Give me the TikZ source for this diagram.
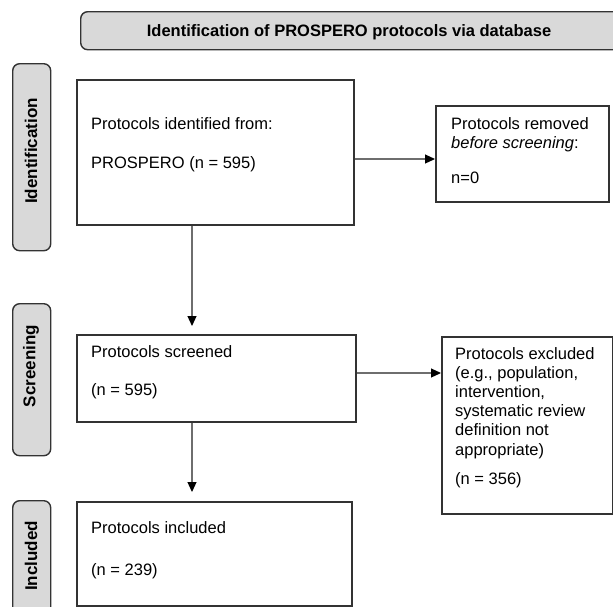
\documentclass[tikz,border=0pt]{standalone}
\usepackage{fontspec}
\setmainfont{Liberation Sans}
\usetikzlibrary{arrows.meta}
\definecolor{lblgray}{HTML}{D9D9D9}
\definecolor{edgecol}{HTML}{333333}
\definecolor{arrcol}{HTML}{6E6E6E}
\begin{document}
\begin{tikzpicture}[x=1pt,y=-1pt,
  box/.style={draw=edgecol,line width=1.7pt,fill=white,inner sep=0pt,anchor=north west},
  lbl/.style={draw=edgecol,line width=1.4pt,fill=lblgray,rounded corners=7pt,inner sep=0pt,anchor=north west},
  lbltxt/.style={inner sep=0pt,rotate=90,font=\bfseries\fontsize{17}{20}\selectfont},
  txt/.style={inner sep=0pt,anchor=base west,font=\fontsize{16.5}{19.2}\selectfont},
  flow/.style={draw=arrcol,line width=1.1pt,-{Triangle[length=10pt,width=9pt,color=black]}},
]
\clip (0,0) rectangle (613,606);
\fill[white] (0,0) rectangle (613,606);

% banner
\node[lbl, minimum width=560, minimum height=38] (banner) at (80,11) {};
\node[inner sep=0pt, anchor=base, font=\bfseries\fontsize{16.5}{19}\selectfont] (bannertxt) at (349,36)
  {Identification of PROSPERO protocols via database};

% phase labels
\node[lbl, minimum width=38, minimum height=187] (lid) at (12,63) {};
\node[lbl, minimum width=38, minimum height=152] (lsc) at (12,303) {};
\node[lbl, minimum width=38, minimum height=120] (lin) at (12,500) {};
\node[lbltxt] (lidt) at (31,151) {Identification};
\node[lbltxt] (lsct) at (31,366) {Screening};
\node[lbltxt] (lint) at (31,556) {Included};

% boxes
\node[box, minimum width=277, minimum height=145] (box1) at (76,79) {};
\node[box, minimum width=173, minimum height=96] (removed) at (435,105) {};
\node[box, minimum width=279, minimum height=87] (screened) at (76,334) {};
\node[box, minimum width=171, minimum height=177] (excluded) at (441,336) {};
\node[box, minimum width=275, minimum height=104] (included) at (76,501) {};

% texts
\node[txt] (t1) at (91,129) {\vtop{\hbox{Protocols identified from:}\vskip19.8pt\hbox{PROSPERO (n = 595)}}};
\node[txt] (t2) at (451,129) {\vtop{\hbox{Protocols removed}\hbox{\textit{before screening}:}\vskip15.8pt\hbox{n=0}}};
\node[txt] (t3) at (91,357) {\vtop{\hbox{Protocols screened}\vskip19.3pt\hbox{(n = 595)}}};
\node[txt] (t4) at (455,359) {\vtop{\hbox{Protocols excluded}\hbox{(e.g., population,}\hbox{intervention,}\hbox{systematic review}\hbox{definition not}\hbox{appropriate)}\vskip9.8pt\hbox{(n = 356)}}};
\node[txt] (t5) at (91,533) {\vtop{\hbox{Protocols included}\vskip22.8pt\hbox{(n = 239)}}};

% connectors
\coordinate (a1) at (0,159);
\coordinate (a3) at (0,373);
\coordinate (vx) at (192,0);
\draw[flow] (box1.east |- a1) -- (removed.west |- a1);
\draw[flow, shorten >=8pt] (box1.south -| vx) -- (screened.north -| vx);
\draw[flow] (screened.east |- a3) -- (excluded.west |- a3);
\draw[flow, shorten >=9pt] (screened.south -| vx) -- (included.north -| vx);
\end{tikzpicture}
\end{document}
